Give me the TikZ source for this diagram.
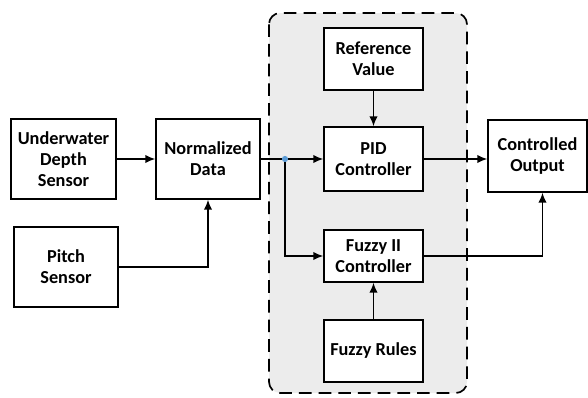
\documentclass[tikz,border=0pt]{standalone}
\usepackage{fontspec}
\setmainfont{Carlito}
\usepackage{tikz}
\usetikzlibrary{arrows.meta,calc}
\definecolor{panelgray}{RGB}{236,236,236}
\definecolor{dotblue}{RGB}{91,155,213}
\tikzset{
  blk/.style={draw,line width=1.1pt,fill=white,align=center,
              font=\fontsize{13}{15}\selectfont\bfseries,
              minimum width=2.5cm,inner sep=1pt},
  link/.style={line width=1.1pt,-{Latex[length=7pt,width=6pt]}}
}

\begin{document}
\begin{tikzpicture}[x=0.025cm,y=-0.025cm]
\useasboundingbox (0,0) rectangle (588,397);
% controller panel
\draw[line width=1.2pt,dash pattern=on 9pt off 5pt,rounded corners=8pt,fill=panelgray]
  (269,13) rectangle (467,393);
% blocks
\node[blk,minimum width=2.625cm,minimum height=2cm] (depth) at (63.5,159) {Underwater\\Depth\\Sensor};
\node[blk,minimum width=2.6cm,minimum height=2cm] (norm) at (208,159) {Normalized\\Data};
\node[blk,minimum width=2.6cm,minimum height=2cm] (pitch) at (66,267) {Pitch\\Sensor};
\node[blk,minimum width=2.475cm,minimum height=1.55cm] (ref) at (373.5,59) {Reference\\Value};
\node[blk,minimum width=2.475cm,minimum height=1.6cm] (pid) at (373.5,159) {PID\\Controller};
\node[blk,minimum width=2.475cm,minimum height=1.3cm] (fuzzy) at (373.5,256) {Fuzzy II\\Controller};
\node[blk,minimum width=2.475cm,minimum height=1.55cm] (rules) at (373.5,351) {Fuzzy Rules};
\node[blk,minimum width=2.475cm,minimum height=1.8cm] (out) at (537.5,156) {Controlled\\Output};
\coordinate (split) at (285,159);
% connectors
\draw[link] (depth) -- (norm);
\draw[link] (pitch.east) -| (norm.south);
\draw[link] (norm.east) -- (split) -- (pid.west);
\draw[link] (split) |- (fuzzy.west);
\draw[link] (ref) -- (pid);
\draw[link] (pid.east) -- (pid.east -| out.west);
\draw[link] (fuzzy.east) -| ($(out.south)+(5,0)$);
\draw[link] (rules) -- (fuzzy);
\fill[dotblue] (split) circle (2.2pt);
\end{tikzpicture}
\end{document}
